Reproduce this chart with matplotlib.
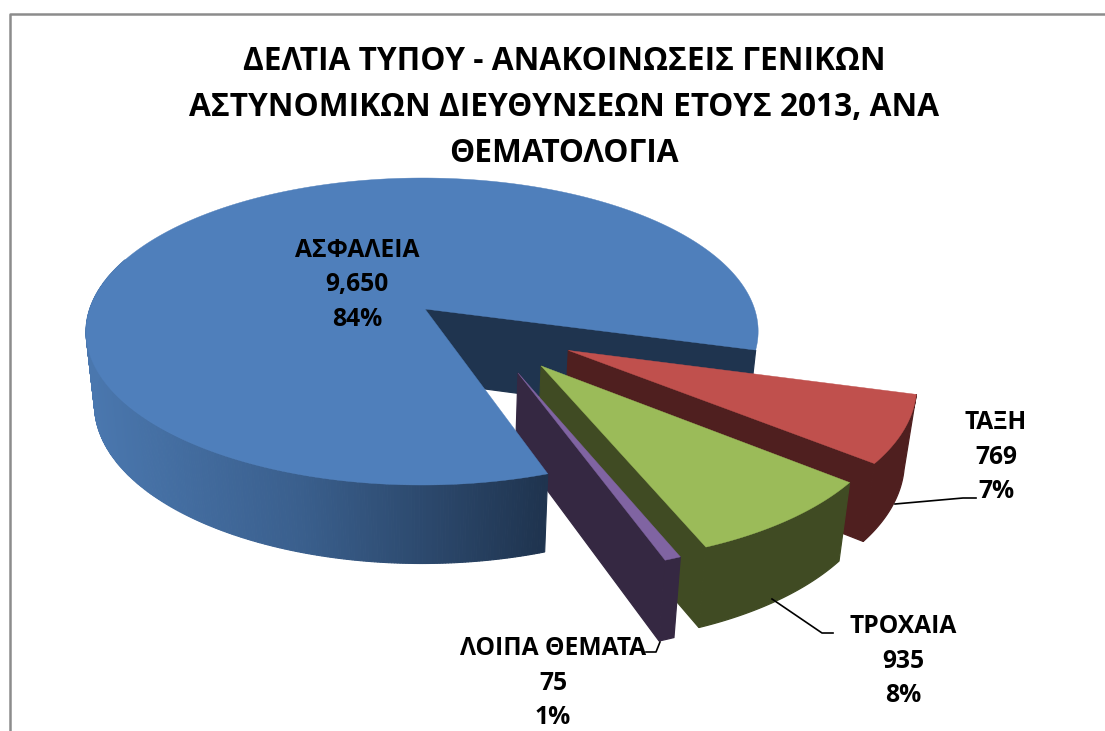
import matplotlib
matplotlib.use("Agg")
import matplotlib.pyplot as plt
import numpy as np

title = "ΔΕΛΤΙΑ ΤΥΠΟΥ - ΑΝΑΚΟΙΝΩΣΕΙΣ ΓΕΝΙΚΩΝ\nΑΣΤΥΝΟΜΙΚΩΝ ΔΙΕΥΘΥΝΣΕΩΝ ΕΤΟΥΣ 2013, ΑΝΑ\nΘΕΜΑΤΟΛΟΓΙΑ"
names = ["ΑΣΦΑΛΕΙΑ", "ΤΑΞΗ", "ΤΡΟΧΑΙΑ", "ΛΟΙΠΑ ΘΕΜΑΤΑ"]
values = [9650, 769, 935, 75]

top_colors = ["#4f7fbb", "#c0504d", "#9bbb59", "#8064a2"]
side_colors = ["#1f344f", "#4f1f1f", "#404b23", "#352842"]
# how far each slice is pulled out, in units of the pie radius
pull_x = [0, 0.416, 0.332, 0.264]
pull_y = [0, 0.266, 0.360, 0.402]
label_x = [357, 996, 903, 553]
label_y = [285, 457, 661, 683]

start = 71.4
cx, cy = 425, 309
rad, a, k, m = 332.4, 150.2, 0.1466, 0.0085
shrink = 0.975


def top_pt(u, v):
    w = 1 - k * v + m * u
    return cx + rad * u / w, cy + a * v / w


def low_pt(u, v):
    x, y = top_pt(u, v)
    return cx + (x - cx) * shrink, y + 72 + 6.5 * v


def arc(i, t0, t1, n=300):
    t = np.radians(np.linspace(t0, t1, n))
    return pull_x[i] + np.cos(t), pull_y[i] + np.sin(t)


def blue_side(x):
    xs = [90, 300, 545]
    r = np.interp(x, xs, [0x4a, 0x3a, 0x1f]) / 255
    g = np.interp(x, xs, [0x77, 0x5f, 0x34]) / 255
    b = np.interp(x, xs, [0xae, 0x8d, 0x4f]) / 255
    return (r, g, b)


def draw_side(i, t0, t1):
    u, v = arc(i, t0, t1)
    x0, y0 = top_pt(u, v)
    x1, y1 = low_pt(u, v)
    if i != 0:
        ax.fill(np.r_[x0, x1[::-1]], np.r_[y0, y1[::-1]], color=side_colors[i], lw=0.9)
        return
    for j in range(len(u) - 1):
        ax.fill([x0[j], x0[j + 1], x1[j + 1], x1[j]], [y0[j], y0[j + 1], y1[j + 1], y1[j]],
                color=blue_side(x0[j]), lw=0.8)


def draw_cut(i, t):
    u, v = arc(i, t, t, 1)
    ax_, ay_ = top_pt(pull_x[i], pull_y[i])
    bx_, by_ = low_pt(pull_x[i], pull_y[i])
    x0, y0 = top_pt(u[0], v[0])
    x1, y1 = low_pt(u[0], v[0])
    ax.fill([ax_, x0, x1, bx_], [ay_, y0, y1, by_], color=side_colors[i], lw=0.9)


def draw_top(i, t0, t1):
    u, v = arc(i, t0, t1, 300)
    x, y = top_pt(u, v)
    ax_, ay_ = top_pt(pull_x[i], pull_y[i])
    ax.fill(np.r_[ax_, x], np.r_[ay_, y], color=top_colors[i], lw=0.3)


plt.rcParams['font.family'] = ['Open Sans', 'DejaVu Sans']
fig = plt.figure(figsize=(11.05, 7.31), dpi=100)
ax = fig.add_axes([0, 0, 1, 1])
ax.set_xlim(0, 1105)
ax.set_ylim(731, 0)
ax.axis("off")

# chart frame, runs off the bottom and right of the picture
ax.plot([9.5, 9.5, 1105], [731, 13.5, 13.5], color="#8c8c8c", lw=1.8)

total = sum(values)
sweep = [val / total * 360 for val in values]
edges = start + np.r_[0, np.cumsum(sweep)]

# back cut of the big slice first, everything else sits on it
draw_cut(0, edges[1])
for i in [1, 2, 3]:
    t0 = edges[i] - 360
    t1 = edges[i + 1] - 360
    draw_side(i, t0, t1)
    draw_cut(i, t1)
    draw_top(i, t0, t1)
# only the front of the rim shows
draw_side(0, edges[0], 200)
draw_top(0, edges[0], edges[1])

ax.text(564, 107.5, title, ha="center", va="center", fontsize=22.8, fontweight="bold",
        linespacing=1.52, color="black")

for i in range(4):
    txt = f"{names[i]}\n{values[i]:,}\n{values[i] / total * 100:.0f}%"
    ax.text(label_x[i], label_y[i], txt, ha="center", va="center", fontsize=17.7,
            fontweight="bold", linespacing=1.48, color="black")

# leader lines
ax.plot([895, 963, 976], [504, 498, 498], color="black", lw=1.2)
ax.plot([772, 822, 833], [599, 633, 633], color="black", lw=1.2)
ax.plot([660, 656, 646], [642, 652, 652], color="black", lw=1.2)

fig.savefig("out.png", dpi=100)
